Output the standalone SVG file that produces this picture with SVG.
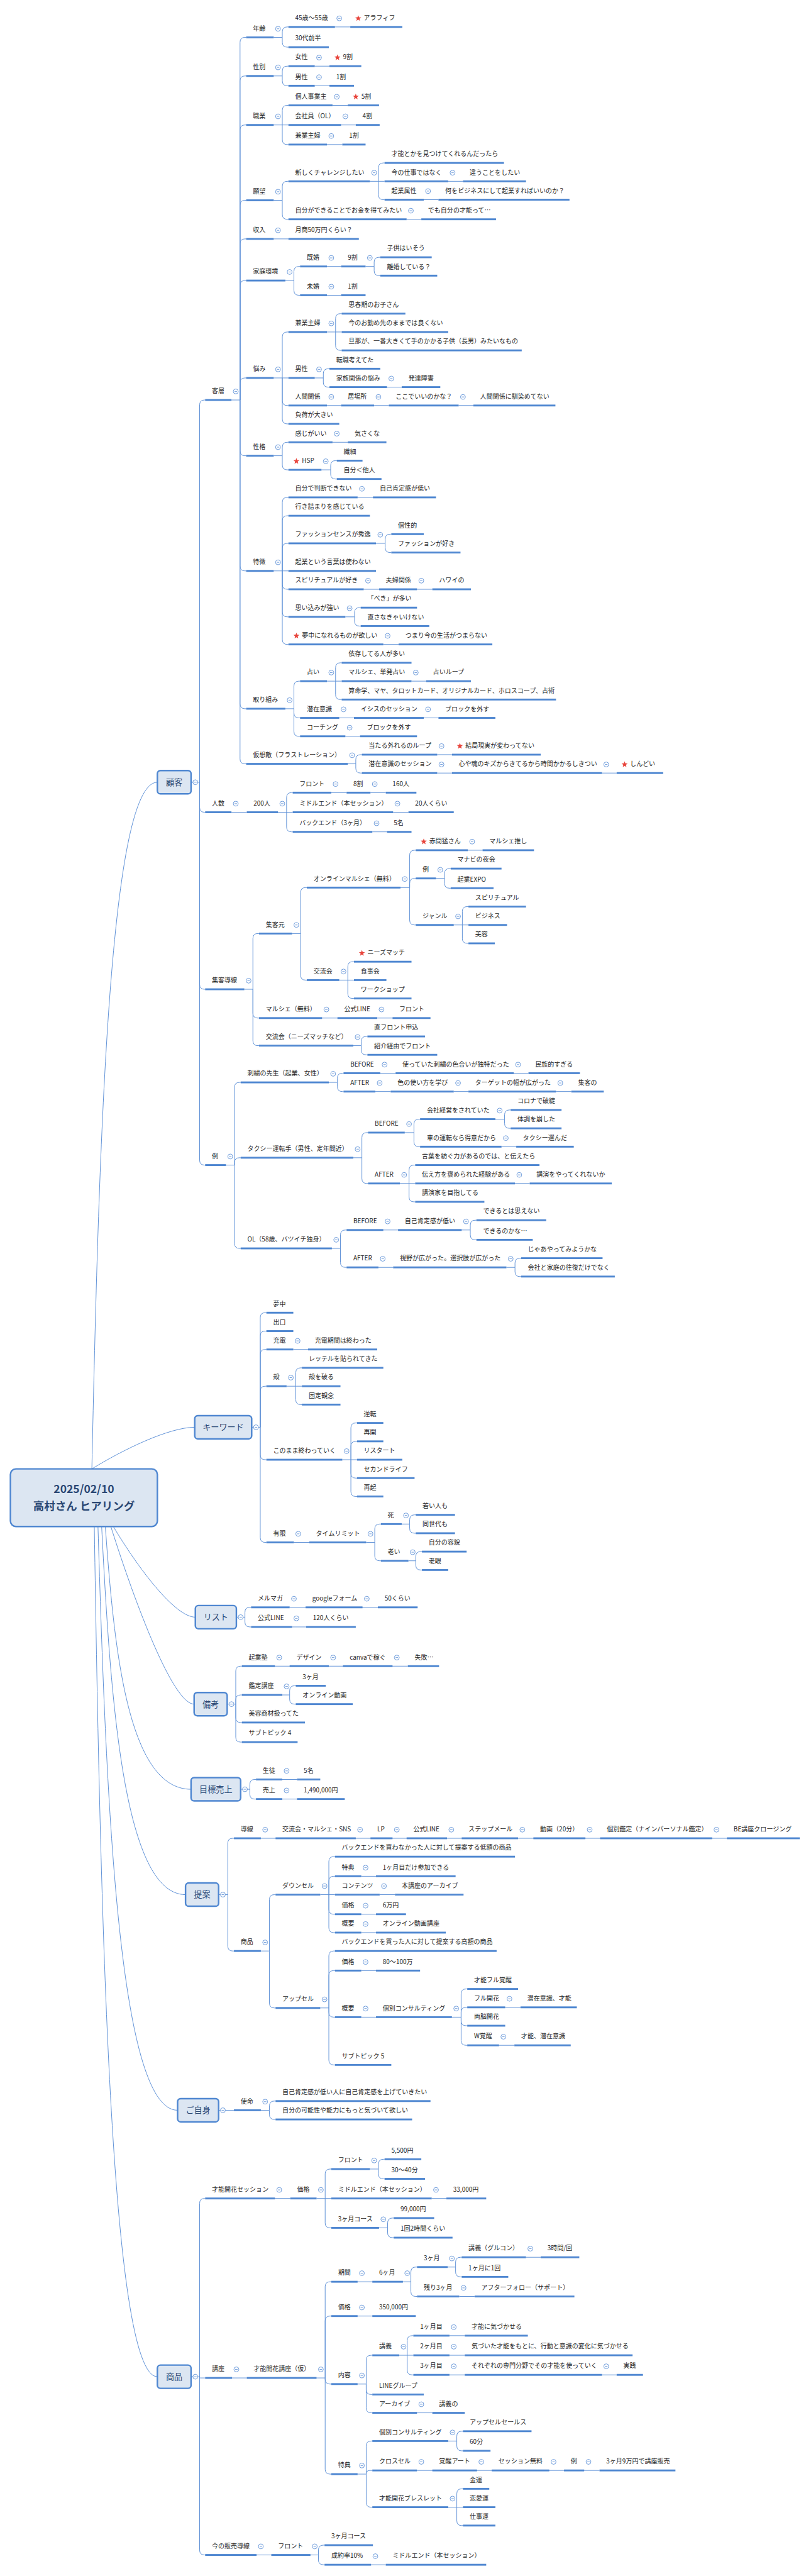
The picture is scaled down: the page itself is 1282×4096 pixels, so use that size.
<svg xmlns="http://www.w3.org/2000/svg" width="1282" height="4096" viewBox="0 0 1282 4096">
<defs>
<style>
.b{fill:#4f87d1}
.t{font-family:"Noto Sans CJK JP","Noto Sans",sans-serif;font-size:10.3px;fill:#262626}
.k{fill:none;stroke:#5b8fd6;stroke-width:1}
.bx{fill:#dce6f2;stroke:#4f87d1;stroke-width:2.5}
.bt{font-family:"Noto Sans CJK JP","Noto Sans",sans-serif;font-size:13.5px;fill:#2b4874;text-anchor:middle}
.rt{font-family:"Noto Sans CJK JP","Noto Sans",sans-serif;font-size:18px;font-weight:bold;fill:#2b4874;text-anchor:middle}
</style>
<g id="m"><circle r="4" fill="#fff" stroke="#5b8fd6" stroke-width="0.9"/><path d="M-2 0H2" stroke="#5b8fd6" stroke-width="0.9"/></g>
<polygon id="s" fill="#e8453c" points="0,-5.2 1.29,-1.78 4.95,-1.61 2.09,0.68 3.06,4.21 0,2.2 -3.06,4.21 -2.09,0.68 -4.95,-1.61 -1.29,-1.78"/>
</defs>
<rect width="1282" height="4096" fill="#fff"/>
<g transform="scale(0.974)">
<g id="connectors" class="k">
<path d="M150 2398C161 1894 177 1277 257 1277M150 2398C200 2367 276 2330 318 2330M185 2492C225 2559 285.5 2640 319 2640M181 2492C222 2622 283 2782 317 2782M172 2492C186 2685 207 2921 312 2921M166 2492C180 2762 200 3093 303 3093M160 2492C173 2921 192 3445 290 3445M154 2492C164 3117 180 3880 257 3880"/>
<path d="M312 1277H326M326 1277V661Q326 653 334 653H335M326 1277V1318Q326 1326 334 1326H335M326 1277V1607Q326 1615 334 1615H335M326 1277V1894Q326 1902 334 1902H335"/>
<path d="M378 653H392M392 653V69Q392 61 400 61H402M392 653V132Q392 124 400 124H402M392 653V212Q392 204 400 204H402M392 653V335Q392 327 400 327H402M392 653V398Q392 390 400 390H402M392 653V466Q392 458 400 458H402M392 653V625Q392 617 400 617H402M392 653V736Q392 744 400 744H402M392 653V924Q392 932 400 932H402M392 653V1149Q392 1157 400 1157H402M392 653V1239Q392 1247 400 1247H402"/>
<path d="M447 61H461M461 61V52Q461 44 469 44H471M461 61V69Q461 77 469 77H471M547 44H572"/>
<path d="M447 124H461M461 124V116Q461 108 469 108H471M461 124V132Q461 140 469 140H471M514 108H538M514 140H538"/>
<path d="M447 204H471M461 204V180Q461 172 469 172H471M461 204V228Q461 236 469 236H471M543 172H568M557 204H581M534 236H559"/>
<path d="M447 327H461M461 327V304Q461 296 469 296H471M461 327V350Q461 358 469 358H471M604 296H628M618 296V274Q618 266 626 266H628M618 296V318Q618 326 626 326H628M732 296H756M692 326H716M664 358H688M447 390H471"/>
<path d="M466 458H480M480 458V443Q480 435 488 435H490M480 458V474Q480 482 488 482H490M534 435H557M597 435H611M611 435V428Q611 420 619 420H621M611 435V442Q611 450 619 450H621M534 482H557"/>
<path d="M447 617H471M461 617V550Q461 542 469 542H471M461 617V654Q461 662 469 662H471M461 617V684Q461 692 469 692H471M534 542H558M548 542V520Q548 512 556 512H558M548 542V564Q548 572 556 572H558M514 617H528M528 617V610Q528 602 536 602H538M528 617V624Q528 632 536 632H538M632 632H656M534 662H557M611 662H635M749 662H773"/>
<path d="M447 744H461M461 744V730Q461 722 469 722H471M461 744V759Q461 767 469 767H471M543 722H568M525 767H540M540 767V760Q540 752 548 752H550M540 767V774Q540 782 548 782H550"/>
<path d="M447 932H471M461 932V820Q461 812 469 812H471M461 932V850Q461 842 469 842H471M461 932V895Q461 887 469 887H471M461 932V954Q461 962 469 962H471M461 932V999Q461 1007 469 1007H471M461 932V1044Q461 1052 469 1052H471M584 812H609M614 887H629M629 887V880Q629 872 637 872H639M629 887V894Q629 902 637 902H639M594 962H619M681 962H706M564 1007H579M579 1007V1000Q579 992 587 992H589M579 1007V1014Q579 1022 587 1022H589M626 1052H651"/>
<path d="M466 1157H480M480 1157V1120Q480 1112 488 1112H490M480 1157V1164Q480 1172 488 1172H490M480 1157V1194Q480 1202 488 1202H490M534 1112H558M548 1112V1090Q548 1082 556 1082H558M548 1112V1134Q548 1142 556 1142H558M672 1112H696M554 1172H578M692 1172H716M564 1202H588"/>
<path d="M568 1247H581M581 1247V1240Q581 1232 589 1232H591M581 1247V1254Q581 1262 589 1262H591M714 1232H738M714 1262H738M983 1262H1007"/>
<path d="M378 1326H403M454 1326H478M468 1326V1302Q468 1294 476 1294H478M468 1326V1350Q468 1358 476 1358H478M541 1294H566M605 1294H630M642 1326H667M608 1358H632"/>
<path d="M399 1615H413M413 1615V1532Q413 1524 421 1524H423M413 1615V1654Q413 1662 421 1662H423M413 1615V1699Q413 1707 421 1707H423M477 1524H491M491 1524V1457Q491 1449 499 1449H501M491 1524V1592Q491 1600 499 1600H501M654 1449H669M669 1449V1396Q669 1388 677 1388H679M669 1449V1442Q669 1434 677 1434H679M669 1449V1502Q669 1510 677 1510H679M764 1388H788M712 1434H726M726 1434V1426Q726 1418 734 1418H736M726 1434V1442Q726 1450 734 1450H736M741 1510H765M755 1510V1488Q755 1480 763 1480H765M755 1510V1532Q755 1540 763 1540H765M554 1600H578M568 1600V1578Q568 1570 576 1570H578M568 1600V1622Q568 1630 576 1630H578M526 1662H551M616 1662H641M577 1707H590M590 1707V1700Q590 1692 598 1692H600M590 1707V1714Q590 1722 598 1722H600"/>
<path d="M369 1902H383M383 1902V1775Q383 1767 391 1767H393M383 1902V1898Q383 1890 391 1890H393M383 1902V2030Q383 2038 391 2038H393M537 1767H551M551 1767V1760Q551 1752 559 1752H561M551 1767V1774Q551 1782 559 1782H561M621 1752H646M839 1752H863M613 1782H638M741 1782H765M908 1782H933"/>
<path d="M577 1890H591M591 1890V1857Q591 1849 599 1849H601M591 1890V1924Q591 1932 599 1932H601M661 1849H676M676 1849V1835Q676 1827 684 1827H686M676 1849V1864Q676 1872 684 1872H686M809 1827H824M824 1827V1820Q824 1812 832 1812H834M824 1827V1834Q824 1842 832 1842H834M819 1872H843M653 1932H678M668 1932V1910Q668 1902 676 1902H678M668 1932V1954Q668 1962 676 1962H678M841 1932H865"/>
<path d="M542 2038H556M556 2038V2016Q556 2008 564 2008H566M556 2038V2061Q556 2069 564 2069H566M626 2008H650M754 2008H768M768 2008V2000Q768 1992 776 1992H778M768 2008V2016Q768 2024 776 2024H778M618 2069H642M827 2069H841M841 2069V2062Q841 2054 849 2054H851M841 2069V2076Q841 2084 849 2084H851"/>
<path d="M411 2330H425M425 2330V2151Q425 2143 433 2143H435M425 2330V2181Q425 2173 433 2173H435M425 2330V2211Q425 2203 433 2203H435M425 2330V2271Q425 2263 433 2263H435M425 2330V2375Q425 2383 433 2383H435M425 2330V2510Q425 2518 433 2518H435M479 2203H503M468 2263H493M483 2263V2241Q483 2233 491 2233H493M483 2263V2285Q483 2293 491 2293H493M559 2383H583M573 2383V2331Q573 2323 581 2323H583M573 2383V2361Q573 2353 581 2353H583M573 2383V2405Q573 2413 581 2413H583M573 2383V2435Q573 2443 581 2443H583M480 2518H505M598 2518H612M612 2518V2496Q612 2488 620 2488H622M612 2518V2540Q612 2548 620 2548H622M656 2488H669M669 2488V2481Q669 2473 677 2473H679M669 2488V2495Q669 2503 677 2503H679M667 2548H679M679 2548V2541Q679 2533 687 2533H689M679 2548V2555Q679 2563 687 2563H689"/>
<path d="M386 2640H400M400 2640V2632Q400 2624 408 2624H410M400 2640V2648Q400 2656 408 2656H410M473 2624H617M477 2656H500"/>
<path d="M371 2782H385M385 2782V2728Q385 2720 393 2720H395M385 2782V2775Q385 2767 393 2767H395M385 2782V2804Q385 2812 393 2812H395M385 2782V2836Q385 2844 393 2844H395M449 2720H666M461 2767H473M473 2767V2760Q473 2752 481 2752H483M473 2767V2774Q473 2782 481 2782H483"/>
<path d="M393 2921H408M408 2921V2913Q408 2905 416 2905H418M408 2921V2929Q408 2937 416 2937H418M461 2905H485M461 2937H485"/>
<path d="M357 3093H372M372 3093V3009Q372 3001 380 3001H382M372 3093V3177Q372 3185 380 3185H382M426 3001H1187M426 3185H440M440 3185V3101Q440 3093 448 3093H450M440 3185V3270Q440 3278 448 3278H450"/>
<path d="M523 3093H547M537 3093V3039Q537 3031 545 3031H547M537 3093V3071Q537 3063 545 3063H547M537 3093V3117Q537 3125 545 3125H547M537 3093V3147Q537 3155 545 3155H547M590 3063H614M620 3093H645M590 3125H614M590 3155H614"/>
<path d="M523 3278H537M537 3278V3193Q537 3185 545 3185H547M537 3278V3225Q537 3217 545 3217H547M537 3278V3285Q537 3293 545 3293H547M537 3278V3363Q537 3371 545 3371H547M590 3217H614M590 3293H614M738 3293H753M753 3293V3255Q753 3247 761 3247H763M753 3293V3285Q753 3277 761 3277H763M753 3293V3299Q753 3307 761 3307H763M753 3293V3331Q753 3339 761 3339H763M825 3277H850M815 3339H840"/>
<path d="M357 3445H382M426 3445H440M440 3445V3438Q440 3430 448 3430H450M440 3445V3452Q440 3460 448 3460H450"/>
<path d="M312 3880H326V3882H335M326 3880V3597Q326 3589 334 3589H335M326 3880V4163Q326 4171 334 4171H335M449 3589H474M517 3589H541M531 3589V3549Q531 3541 539 3541H541M531 3589V3629Q531 3637 539 3637H541M604 3541H618M618 3541V3533Q618 3525 626 3525H628M618 3541V3549Q618 3557 626 3557H628M705 3589H729M619 3637H633M633 3637V3629Q633 3621 641 3621H643M633 3637V3645Q633 3653 641 3653H643"/>
<path d="M379 3882H403M517 3882H531M531 3882V3733Q531 3725 539 3725H541M531 3882V3789Q531 3781 539 3781H541M531 3882V3884Q531 3892 539 3892H541M531 3882V4031Q531 4039 539 4039H541M584 3725H608M658 3725H671M671 3725V3709Q671 3701 679 3701H681M671 3725V3741Q671 3749 679 3749H681M731 3701H744M744 3701V3693Q744 3685 752 3685H754M744 3701V3709Q744 3717 752 3717H754M859 3685H883M750 3749H775M584 3781H608"/>
<path d="M584 3892H598M598 3892V3853Q598 3845 606 3845H608M598 3892V3901Q598 3909 606 3909H608M598 3892V3931Q598 3939 606 3939H608M652 3845H675M665 3845V3821Q665 3813 673 3813H675M665 3845V3869Q665 3877 673 3877H675M734 3813H759M734 3845H759M734 3877H1007M681 3939H706"/>
<path d="M584 4039H598M598 4039V3993Q598 3985 606 3985H608M598 4039Q598 4033 604 4033H608M598 4039V4085Q598 4093 606 4093H608M732 3985H746M746 3985V3977Q746 3969 754 3969H756M746 3985V3993Q746 4001 754 4001H756M681 4033H979M732 4093H756M746 4093V4071Q746 4063 754 4063H756M746 4093V4115Q746 4123 754 4123H756"/>
<path d="M419 4171H443M507 4171H520M520 4171V4163Q520 4155 528 4155H530M520 4171V4179Q520 4187 528 4187H530M606 4187H630"/>
</g>

<g id="root"><rect class="bx" x="17" y="2398" width="240" height="94" rx="9" stroke-width="3"/><text class="rt" x="137" y="2437">2025/02/10</text><text class="rt" x="137" y="2465">高村さん ヒアリング</text></g>

<g id="kokyaku"><rect class="bx" x="257" y="1258" width="55" height="38" rx="5"/><text class="bt" x="284.5" y="1282">顧客</text><use href="#m" x="319" y="1277"/></g>
<g id="keyword"><rect class="bx" x="318" y="2311" width="93" height="38" rx="5"/><text class="bt" x="364.5" y="2335">キーワード</text><use href="#m" x="418" y="2330"/></g>
<g id="list"><rect class="bx" x="319" y="2621" width="67" height="38" rx="5"/><text class="bt" x="352.5" y="2645">リスト</text><use href="#m" x="393" y="2640"/></g>
<g id="biko"><rect class="bx" x="317" y="2763" width="54" height="38" rx="5"/><text class="bt" x="344" y="2787">備考</text><use href="#m" x="378" y="2782"/></g>
<g id="mokuhyo"><rect class="bx" x="312" y="2902" width="81" height="38" rx="5"/><text class="bt" x="352.5" y="2926">目標売上</text><use href="#m" x="400" y="2921"/></g>
<g id="teian"><rect class="bx" x="303" y="3074" width="54" height="38" rx="5"/><text class="bt" x="330" y="3098">提案</text><use href="#m" x="364" y="3093"/></g>
<g id="gojishin"><rect class="bx" x="290" y="3426" width="67" height="38" rx="5"/><text class="bt" x="323.5" y="3450">ご自身</text><use href="#m" x="364" y="3445"/></g>
<g id="shohin"><rect class="bx" x="257" y="3861" width="55" height="38" rx="5"/><text class="bt" x="284.5" y="3885">商品</text><use href="#m" x="319" y="3880"/></g>

<g id="n-kyakuso"><rect class="b" x="335" y="651.5" width="43" height="3"/><text class="t" x="346" y="642">客層</text><use href="#m" x="385" y="639"/></g>
<g id="n1"><rect class="b" x="402" y="59.5" width="45" height="3"/><text class="t" x="413" y="50">年齢</text><use href="#m" x="454" y="47"/></g>
<g id="n2"><rect class="b" x="471" y="42.5" width="76" height="3"/><text class="t" x="482" y="33">45歳〜55歳</text><use href="#m" x="554" y="30"/></g>
<g id="n3"><rect class="b" x="572" y="42.5" width="85" height="3"/><use href="#s" x="585" y="30"/><text class="t" x="594" y="33">アラフィフ</text></g>
<g id="n4"><rect class="b" x="471" y="75.5" width="66" height="3"/><text class="t" x="482" y="66">30代前半</text></g>
<g id="n5"><rect class="b" x="402" y="122.5" width="45" height="3"/><text class="t" x="413" y="113">性別</text><use href="#m" x="454" y="110"/></g>
<g id="n6"><rect class="b" x="471" y="106.5" width="43" height="3"/><text class="t" x="482" y="97">女性</text><use href="#m" x="521" y="94"/></g>
<g id="n7"><rect class="b" x="538" y="106.5" width="52" height="3"/><use href="#s" x="551" y="94"/><text class="t" x="560" y="97">9割</text></g>
<g id="n8"><rect class="b" x="471" y="138.5" width="43" height="3"/><text class="t" x="482" y="129">男性</text><use href="#m" x="521" y="126"/></g>
<g id="n9"><rect class="b" x="538" y="138.5" width="40" height="3"/><text class="t" x="549" y="129">1割</text></g>
<g id="n10"><rect class="b" x="402" y="202.5" width="45" height="3"/><text class="t" x="413" y="193">職業</text><use href="#m" x="454" y="190"/></g>
<g id="n11"><rect class="b" x="471" y="170.5" width="72" height="3"/><text class="t" x="482" y="161">個人事業主</text><use href="#m" x="550" y="158"/></g>
<g id="n12"><rect class="b" x="568" y="170.5" width="51" height="3"/><use href="#s" x="581" y="158"/><text class="t" x="590" y="161">5割</text></g>
<g id="n13"><rect class="b" x="471" y="202.5" width="86" height="3"/><text class="t" x="482" y="193">会社員（OL）</text><use href="#m" x="564" y="190"/></g>
<g id="n14"><rect class="b" x="581" y="202.5" width="39" height="3"/><text class="t" x="592" y="193">4割</text></g>
<g id="n15"><rect class="b" x="471" y="234.5" width="63" height="3"/><text class="t" x="482" y="225">兼業主婦</text><use href="#m" x="541" y="222"/></g>
<g id="n16"><rect class="b" x="559" y="234.5" width="38" height="3"/><text class="t" x="570" y="225">1割</text></g>
<g id="n17"><rect class="b" x="402" y="325.5" width="45" height="3"/><text class="t" x="413" y="316">願望</text><use href="#m" x="454" y="313"/></g>
<g id="n18"><rect class="b" x="471" y="294.5" width="133" height="3"/><text class="t" x="482" y="285">新しくチャレンジしたい</text><use href="#m" x="611" y="282"/></g>
<g id="n19"><rect class="b" x="628" y="264.5" width="195" height="3"/><text class="t" x="639" y="255">才能とかを見つけてくれるんだったら</text></g>
<g id="n20"><rect class="b" x="628" y="294.5" width="104" height="3"/><text class="t" x="639" y="285">今の仕事ではなく</text><use href="#m" x="739" y="282"/></g>
<g id="n21"><rect class="b" x="756" y="294.5" width="103" height="3"/><text class="t" x="767" y="285">違うことをしたい</text></g>
<g id="n22"><rect class="b" x="628" y="324.5" width="64" height="3"/><text class="t" x="639" y="315">起業属性</text><use href="#m" x="699" y="312"/></g>
<g id="n23"><rect class="b" x="716" y="324.5" width="214" height="3"/><text class="t" x="727" y="315">何をビジネスにして起業すればいいのか？</text></g>
<g id="n24"><rect class="b" x="471" y="356.5" width="193" height="3"/><text class="t" x="482" y="347">自分ができることでお金を得てみたい</text><use href="#m" x="671" y="344"/></g>
<g id="n25"><rect class="b" x="688" y="356.5" width="122" height="3"/><text class="t" x="699" y="347">でも自分の才能って…</text></g>
<g id="n26"><rect class="b" x="402" y="388.5" width="45" height="3"/><text class="t" x="413" y="379">収入</text><use href="#m" x="454" y="376"/></g>
<g id="n27"><rect class="b" x="471" y="388.5" width="115" height="3"/><text class="t" x="482" y="379">月商50万円くらい？</text></g>
<g id="n28"><rect class="b" x="402" y="456.5" width="64" height="3"/><text class="t" x="413" y="447">家庭環境</text><use href="#m" x="473" y="444"/></g>
<g id="n29"><rect class="b" x="490" y="433.5" width="44" height="3"/><text class="t" x="501" y="424">既婚</text><use href="#m" x="541" y="421"/></g>
<g id="n30"><rect class="b" x="557" y="433.5" width="40" height="3"/><text class="t" x="568" y="424">9割</text><use href="#m" x="604" y="421"/></g>
<g id="n31"><rect class="b" x="621" y="418.5" width="84" height="3"/><text class="t" x="632" y="409">子供はいそう</text></g>
<g id="n32"><rect class="b" x="621" y="448.5" width="93" height="3"/><text class="t" x="632" y="439">離婚している？</text></g>
<g id="n33"><rect class="b" x="490" y="480.5" width="44" height="3"/><text class="t" x="501" y="471">未婚</text><use href="#m" x="541" y="468"/></g>
<g id="n34"><rect class="b" x="557" y="480.5" width="40" height="3"/><text class="t" x="568" y="471">1割</text></g>
<g id="n35"><rect class="b" x="402" y="615.5" width="45" height="3"/><text class="t" x="413" y="606">悩み</text><use href="#m" x="454" y="603"/></g>
<g id="n36"><rect class="b" x="471" y="540.5" width="63" height="3"/><text class="t" x="482" y="531">兼業主婦</text><use href="#m" x="541" y="528"/></g>
<g id="n37"><rect class="b" x="558" y="510.5" width="104" height="3"/><text class="t" x="569" y="501">思春期のお子さん</text></g>
<g id="n38"><rect class="b" x="558" y="540.5" width="174" height="3"/><text class="t" x="569" y="531">今のお勤め先のままでは良くない</text></g>
<g id="n39"><rect class="b" x="558" y="570.5" width="294" height="3"/><text class="t" x="569" y="561">旦那が、一番大きくて手のかかる子供（長男）みたいなもの</text></g>
<g id="n40"><rect class="b" x="471" y="615.5" width="43" height="3"/><text class="t" x="482" y="606">男性</text><use href="#m" x="521" y="603"/></g>
<g id="n41"><rect class="b" x="538" y="600.5" width="83" height="3"/><text class="t" x="549" y="591">転職考えてた</text></g>
<g id="n42"><rect class="b" x="538" y="630.5" width="94" height="3"/><text class="t" x="549" y="621">家族関係の悩み</text><use href="#m" x="639" y="618"/></g>
<g id="n43"><rect class="b" x="656" y="630.5" width="63" height="3"/><text class="t" x="667" y="621">発達障害</text></g>
<g id="n44"><rect class="b" x="471" y="660.5" width="63" height="3"/><text class="t" x="482" y="651">人間関係</text><use href="#m" x="541" y="648"/></g>
<g id="n45"><rect class="b" x="557" y="660.5" width="54" height="3"/><text class="t" x="568" y="651">居場所</text><use href="#m" x="618" y="648"/></g>
<g id="n46"><rect class="b" x="635" y="660.5" width="114" height="3"/><text class="t" x="646" y="651">ここでいいのかな？</text><use href="#m" x="756" y="648"/></g>
<g id="n47"><rect class="b" x="773" y="660.5" width="134" height="3"/><text class="t" x="784" y="651">人間関係に馴染めてない</text></g>
<g id="n48"><rect class="b" x="471" y="690.5" width="83" height="3"/><text class="t" x="482" y="681">負荷が大きい</text></g>
<g id="n49"><rect class="b" x="402" y="742.5" width="45" height="3"/><text class="t" x="413" y="733">性格</text><use href="#m" x="454" y="730"/></g>
<g id="n50"><rect class="b" x="471" y="720.5" width="72" height="3"/><text class="t" x="482" y="711">感じがいい</text><use href="#m" x="550" y="708"/></g>
<g id="n51"><rect class="b" x="568" y="720.5" width="63" height="3"/><text class="t" x="579" y="711">気さくな</text></g>
<g id="n52"><rect class="b" x="471" y="765.5" width="54" height="3"/><use href="#s" x="484" y="753"/><text class="t" x="493" y="756">HSP</text><use href="#m" x="532" y="753"/></g>
<g id="n53"><rect class="b" x="550" y="750.5" width="42" height="3"/><text class="t" x="561" y="741">繊細</text></g>
<g id="n54"><rect class="b" x="550" y="780.5" width="73" height="3"/><text class="t" x="561" y="771">自分＜他人</text></g>
<g id="n55"><rect class="b" x="402" y="930.5" width="45" height="3"/><text class="t" x="413" y="921">特徴</text><use href="#m" x="454" y="918"/></g>
<g id="n56"><rect class="b" x="471" y="810.5" width="113" height="3"/><text class="t" x="482" y="801">自分で判断できない</text><use href="#m" x="591" y="798"/></g>
<g id="n57"><rect class="b" x="609" y="810.5" width="103" height="3"/><text class="t" x="620" y="801">自己肯定感が低い</text></g>
<g id="n58"><rect class="b" x="471" y="840.5" width="133" height="3"/><text class="t" x="482" y="831">行き詰まりを感じている</text></g>
<g id="n59"><rect class="b" x="471" y="885.5" width="143" height="3"/><text class="t" x="482" y="876">ファッションセンスが秀逸</text><use href="#m" x="621" y="873"/></g>
<g id="n60"><rect class="b" x="639" y="870.5" width="53" height="3"/><text class="t" x="650" y="861">個性的</text></g>
<g id="n61"><rect class="b" x="639" y="900.5" width="113" height="3"/><text class="t" x="650" y="891">ファッションが好き</text></g>
<g id="n62"><rect class="b" x="471" y="930.5" width="143" height="3"/><text class="t" x="482" y="921">起業という言葉は使わない</text></g>
<g id="n63"><rect class="b" x="471" y="960.5" width="123" height="3"/><text class="t" x="482" y="951">スピリチュアルが好き</text><use href="#m" x="601" y="948"/></g>
<g id="n64"><rect class="b" x="619" y="960.5" width="62" height="3"/><text class="t" x="630" y="951">夫婦関係</text><use href="#m" x="688" y="948"/></g>
<g id="n65"><rect class="b" x="706" y="960.5" width="63" height="3"/><text class="t" x="717" y="951">ハワイの</text></g>
<g id="n66"><rect class="b" x="471" y="1005.5" width="93" height="3"/><text class="t" x="482" y="996">思い込みが強い</text><use href="#m" x="571" y="993"/></g>
<g id="n67"><rect class="b" x="589" y="990.5" width="92" height="3"/><text class="t" x="600" y="981">「べき」が多い</text></g>
<g id="n68"><rect class="b" x="589" y="1020.5" width="112" height="3"/><text class="t" x="600" y="1011">直さなきゃいけない</text></g>
<g id="n69"><rect class="b" x="471" y="1050.5" width="155" height="3"/><use href="#s" x="484" y="1038"/><text class="t" x="493" y="1041">夢中になれるものが欲しい</text><use href="#m" x="633" y="1038"/></g>
<g id="n70"><rect class="b" x="651" y="1050.5" width="153" height="3"/><text class="t" x="662" y="1041">つまり今の生活がつまらない</text></g>
<g id="n71"><rect class="b" x="402" y="1155.5" width="64" height="3"/><text class="t" x="413" y="1146">取り組み</text><use href="#m" x="473" y="1143"/></g>
<g id="n72"><rect class="b" x="490" y="1110.5" width="44" height="3"/><text class="t" x="501" y="1101">占い</text><use href="#m" x="541" y="1098"/></g>
<g id="n73"><rect class="b" x="558" y="1080.5" width="114" height="3"/><text class="t" x="569" y="1071">依存してる人が多い</text></g>
<g id="n74"><rect class="b" x="558" y="1110.5" width="114" height="3"/><text class="t" x="569" y="1101">マルシェ、単発占い</text><use href="#m" x="679" y="1098"/></g>
<g id="n75"><rect class="b" x="696" y="1110.5" width="73" height="3"/><text class="t" x="707" y="1101">占いループ</text></g>
<g id="n76"><rect class="b" x="558" y="1140.5" width="350" height="3"/><text class="t" x="569" y="1131">算命学、マヤ、タロットカード、オリジナルカード、ホロスコープ、占術</text></g>
<g id="n77"><rect class="b" x="490" y="1170.5" width="64" height="3"/><text class="t" x="501" y="1161">潜在意識</text><use href="#m" x="561" y="1158"/></g>
<g id="n78"><rect class="b" x="578" y="1170.5" width="114" height="3"/><text class="t" x="589" y="1161">イシスのセッション</text><use href="#m" x="699" y="1158"/></g>
<g id="n79"><rect class="b" x="716" y="1170.5" width="93" height="3"/><text class="t" x="727" y="1161">ブロックを外す</text></g>
<g id="n80"><rect class="b" x="490" y="1200.5" width="74" height="3"/><text class="t" x="501" y="1191">コーチング</text><use href="#m" x="571" y="1188"/></g>
<g id="n81"><rect class="b" x="588" y="1200.5" width="93" height="3"/><text class="t" x="599" y="1191">ブロックを外す</text></g>
<g id="n82"><rect class="b" x="402" y="1245.5" width="166" height="3"/><text class="t" x="413" y="1236">仮想敵（フラストレーション）</text><use href="#m" x="575" y="1233"/></g>
<g id="n83"><rect class="b" x="591" y="1230.5" width="123" height="3"/><text class="t" x="602" y="1221">当たる外れるのループ</text><use href="#m" x="721" y="1218"/></g>
<g id="n84"><rect class="b" x="738" y="1230.5" width="145" height="3"/><use href="#s" x="751" y="1218"/><text class="t" x="760" y="1221">結局現実が変わってない</text></g>
<g id="n85"><rect class="b" x="591" y="1260.5" width="123" height="3"/><text class="t" x="602" y="1251">潜在意識のセッション</text><use href="#m" x="721" y="1248"/></g>
<g id="n86"><rect class="b" x="738" y="1260.5" width="245" height="3"/><text class="t" x="749" y="1251">心や魂のキズからきてるから時間かかるしきつい</text><use href="#m" x="990" y="1248"/></g>
<g id="n87"><rect class="b" x="1007" y="1260.5" width="76" height="3"/><use href="#s" x="1020" y="1248"/><text class="t" x="1029" y="1251">しんどい</text></g>

<g id="n88"><rect class="b" x="335" y="1324.5" width="43" height="3"/><text class="t" x="346" y="1315">人数</text><use href="#m" x="385" y="1312"/></g>
<g id="n89"><rect class="b" x="403" y="1324.5" width="51" height="3"/><text class="t" x="414" y="1315">200人</text><use href="#m" x="461" y="1312"/></g>
<g id="n90"><rect class="b" x="478" y="1292.5" width="63" height="3"/><text class="t" x="489" y="1283">フロント</text><use href="#m" x="548" y="1280"/></g>
<g id="n91"><rect class="b" x="566" y="1292.5" width="39" height="3"/><text class="t" x="577" y="1283">8割</text><use href="#m" x="612" y="1280"/></g>
<g id="n92"><rect class="b" x="630" y="1292.5" width="50" height="3"/><text class="t" x="641" y="1283">160人</text></g>
<g id="n93"><rect class="b" x="478" y="1324.5" width="164" height="3"/><text class="t" x="489" y="1315">ミドルエンド（本セッション）</text><use href="#m" x="649" y="1312"/></g>
<g id="n94"><rect class="b" x="667" y="1324.5" width="74" height="3"/><text class="t" x="678" y="1315">20人くらい</text></g>
<g id="n95"><rect class="b" x="478" y="1356.5" width="130" height="3"/><text class="t" x="489" y="1347">バックエンド（3ヶ月）</text><use href="#m" x="615" y="1344"/></g>
<g id="n96"><rect class="b" x="632" y="1356.5" width="40" height="3"/><text class="t" x="643" y="1347">5名</text></g>

<g id="n97"><rect class="b" x="335" y="1613.5" width="64" height="3"/><text class="t" x="346" y="1604">集客導線</text><use href="#m" x="406" y="1601"/></g>
<g id="n98"><rect class="b" x="423" y="1522.5" width="54" height="3"/><text class="t" x="434" y="1513">集客元</text><use href="#m" x="484" y="1510"/></g>
<g id="n99"><rect class="b" x="501" y="1447.5" width="153" height="3"/><text class="t" x="512" y="1438">オンラインマルシェ（無料）</text><use href="#m" x="661" y="1435"/></g>
<g id="n100"><rect class="b" x="679" y="1386.5" width="85" height="3"/><use href="#s" x="692" y="1374"/><text class="t" x="701" y="1377">赤間猛さん</text><use href="#m" x="771" y="1374"/></g>
<g id="n101"><rect class="b" x="788" y="1386.5" width="84" height="3"/><text class="t" x="799" y="1377">マルシェ推し</text></g>
<g id="n102"><rect class="b" x="679" y="1432.5" width="33" height="3"/><text class="t" x="690" y="1423">例</text><use href="#m" x="719" y="1420"/></g>
<g id="n103"><rect class="b" x="736" y="1416.5" width="83" height="3"/><text class="t" x="747" y="1407">マナビの夜会</text></g>
<g id="n104"><rect class="b" x="736" y="1448.5" width="70" height="3"/><text class="t" x="747" y="1439">起業EXPO</text></g>
<g id="n105"><rect class="b" x="679" y="1508.5" width="62" height="3"/><text class="t" x="690" y="1499">ジャンル</text><use href="#m" x="748" y="1496"/></g>
<g id="n106"><rect class="b" x="765" y="1478.5" width="94" height="3"/><text class="t" x="776" y="1469">スピリチュアル</text></g>
<g id="n107"><rect class="b" x="765" y="1508.5" width="63" height="3"/><text class="t" x="776" y="1499">ビジネス</text></g>
<g id="n108"><rect class="b" x="765" y="1538.5" width="43" height="3"/><text class="t" x="776" y="1529">美容</text></g>
<g id="n109"><rect class="b" x="501" y="1598.5" width="53" height="3"/><text class="t" x="512" y="1589">交流会</text><use href="#m" x="561" y="1586"/></g>
<g id="n110"><rect class="b" x="578" y="1568.5" width="94" height="3"/><use href="#s" x="591" y="1556"/><text class="t" x="600" y="1559">ニーズマッチ</text></g>
<g id="n111"><rect class="b" x="578" y="1598.5" width="53" height="3"/><text class="t" x="589" y="1589">食事会</text></g>
<g id="n112"><rect class="b" x="578" y="1628.5" width="94" height="3"/><text class="t" x="589" y="1619">ワークショップ</text></g>
<g id="n113"><rect class="b" x="423" y="1660.5" width="103" height="3"/><text class="t" x="434" y="1651">マルシェ（無料）</text><use href="#m" x="533" y="1648"/></g>
<g id="n114"><rect class="b" x="551" y="1660.5" width="65" height="3"/><text class="t" x="562" y="1651">公式LINE</text><use href="#m" x="623" y="1648"/></g>
<g id="n115"><rect class="b" x="641" y="1660.5" width="62" height="3"/><text class="t" x="652" y="1651">フロント</text></g>
<g id="n116"><rect class="b" x="423" y="1705.5" width="154" height="3"/><text class="t" x="434" y="1696">交流会（ニーズマッチなど）</text><use href="#m" x="584" y="1693"/></g>
<g id="n117"><rect class="b" x="600" y="1690.5" width="94" height="3"/><text class="t" x="611" y="1681">直フロント申込</text></g>
<g id="n118"><rect class="b" x="600" y="1720.5" width="114" height="3"/><text class="t" x="611" y="1711">紹介経由でフロント</text></g>

<g id="n119"><rect class="b" x="335" y="1900.5" width="34" height="3"/><text class="t" x="346" y="1891">例</text><use href="#m" x="376" y="1888"/></g>
<g id="n120"><rect class="b" x="393" y="1765.5" width="144" height="3"/><text class="t" x="404" y="1756">刺繍の先生（起業、女性）</text><use href="#m" x="544" y="1753"/></g>
<g id="n121"><rect class="b" x="561" y="1750.5" width="60" height="3"/><text class="t" x="572" y="1741">BEFORE</text><use href="#m" x="628" y="1738"/></g>
<g id="n122"><rect class="b" x="646" y="1750.5" width="193" height="3"/><text class="t" x="657" y="1741">使っていた刺繍の色合いが独特だった</text><use href="#m" x="846" y="1738"/></g>
<g id="n123"><rect class="b" x="863" y="1750.5" width="84" height="3"/><text class="t" x="874" y="1741">民族的すぎる</text></g>
<g id="n124"><rect class="b" x="561" y="1780.5" width="52" height="3"/><text class="t" x="572" y="1771">AFTER</text><use href="#m" x="620" y="1768"/></g>
<g id="n125"><rect class="b" x="638" y="1780.5" width="103" height="3"/><text class="t" x="649" y="1771">色の使い方を学び</text><use href="#m" x="748" y="1768"/></g>
<g id="n126"><rect class="b" x="765" y="1780.5" width="143" height="3"/><text class="t" x="776" y="1771">ターゲットの幅が広がった</text><use href="#m" x="915" y="1768"/></g>
<g id="n127"><rect class="b" x="933" y="1780.5" width="53" height="3"/><text class="t" x="944" y="1771">集客の</text></g>
<g id="n128"><rect class="b" x="393" y="1888.5" width="184" height="3"/><text class="t" x="404" y="1879">タクシー運転手（男性、定年間近）</text><use href="#m" x="584" y="1876"/></g>
<g id="n129"><rect class="b" x="601" y="1847.5" width="60" height="3"/><text class="t" x="612" y="1838">BEFORE</text><use href="#m" x="668" y="1835"/></g>
<g id="n130"><rect class="b" x="686" y="1825.5" width="123" height="3"/><text class="t" x="697" y="1816">会社経営をされていた</text><use href="#m" x="816" y="1813"/></g>
<g id="n131"><rect class="b" x="834" y="1810.5" width="83" height="3"/><text class="t" x="845" y="1801">コロナで破綻</text></g>
<g id="n132"><rect class="b" x="834" y="1840.5" width="83" height="3"/><text class="t" x="845" y="1831">体調を崩した</text></g>
<g id="n133"><rect class="b" x="686" y="1870.5" width="133" height="3"/><text class="t" x="697" y="1861">車の運転なら得意だから</text><use href="#m" x="826" y="1858"/></g>
<g id="n134"><rect class="b" x="843" y="1870.5" width="94" height="3"/><text class="t" x="854" y="1861">タクシー選んだ</text></g>
<g id="n135"><rect class="b" x="601" y="1930.5" width="52" height="3"/><text class="t" x="612" y="1921">AFTER</text><use href="#m" x="660" y="1918"/></g>
<g id="n136"><rect class="b" x="678" y="1900.5" width="203" height="3"/><text class="t" x="689" y="1891">言葉を紡ぐ力があるのでは、と伝えたら</text></g>
<g id="n137"><rect class="b" x="678" y="1930.5" width="163" height="3"/><text class="t" x="689" y="1921">伝え方を褒められた経験がある</text><use href="#m" x="848" y="1918"/></g>
<g id="n138"><rect class="b" x="865" y="1930.5" width="134" height="3"/><text class="t" x="876" y="1921">講演をやってくれないか</text></g>
<g id="n139"><rect class="b" x="678" y="1960.5" width="113" height="3"/><text class="t" x="689" y="1951">講演家を目指してる</text></g>
<g id="n140"><rect class="b" x="393" y="2036.5" width="149" height="3"/><text class="t" x="404" y="2027">OL（58歳、バツイチ独身）</text><use href="#m" x="549" y="2024"/></g>
<g id="n141"><rect class="b" x="566" y="2006.5" width="60" height="3"/><text class="t" x="577" y="1997">BEFORE</text><use href="#m" x="633" y="1994"/></g>
<g id="n142"><rect class="b" x="650" y="2006.5" width="104" height="3"/><text class="t" x="661" y="1997">自己肯定感が低い</text><use href="#m" x="761" y="1994"/></g>
<g id="n143"><rect class="b" x="778" y="1990.5" width="114" height="3"/><text class="t" x="789" y="1981">できるとは思えない</text></g>
<g id="n144"><rect class="b" x="778" y="2022.5" width="92" height="3"/><text class="t" x="789" y="2013">できるのかな…</text></g>
<g id="n145"><rect class="b" x="566" y="2067.5" width="52" height="3"/><text class="t" x="577" y="2058">AFTER</text><use href="#m" x="625" y="2055"/></g>
<g id="n146"><rect class="b" x="642" y="2067.5" width="185" height="3"/><text class="t" x="653" y="2058">視野が広がった。選択肢が広がった</text><use href="#m" x="834" y="2055"/></g>
<g id="n147"><rect class="b" x="851" y="2052.5" width="133" height="3"/><text class="t" x="862" y="2043">じゃあやってみようかな</text></g>
<g id="n148"><rect class="b" x="851" y="2082.5" width="153" height="3"/><text class="t" x="862" y="2073">会社と家庭の往復だけでなく</text></g>

<g id="n149"><rect class="b" x="435" y="2141.5" width="44" height="3"/><text class="t" x="446" y="2132">夢中</text></g>
<g id="n150"><rect class="b" x="435" y="2171.5" width="44" height="3"/><text class="t" x="446" y="2162">出口</text></g>
<g id="n151"><rect class="b" x="435" y="2201.5" width="44" height="3"/><text class="t" x="446" y="2192">充電</text><use href="#m" x="486" y="2189"/></g>
<g id="n152"><rect class="b" x="503" y="2201.5" width="113" height="3"/><text class="t" x="514" y="2192">充電期間は終わった</text></g>
<g id="n153"><rect class="b" x="435" y="2261.5" width="33" height="3"/><text class="t" x="446" y="2252">殻</text><use href="#m" x="475" y="2249"/></g>
<g id="n154"><rect class="b" x="493" y="2231.5" width="133" height="3"/><text class="t" x="504" y="2222">レッテルを貼られてきた</text></g>
<g id="n155"><rect class="b" x="493" y="2261.5" width="63" height="3"/><text class="t" x="504" y="2252">殻を破る</text></g>
<g id="n156"><rect class="b" x="493" y="2291.5" width="63" height="3"/><text class="t" x="504" y="2282">固定観念</text></g>
<g id="n157"><rect class="b" x="435" y="2381.5" width="124" height="3"/><text class="t" x="446" y="2372">このまま終わっていく</text><use href="#m" x="566" y="2369"/></g>
<g id="n158"><rect class="b" x="583" y="2321.5" width="43" height="3"/><text class="t" x="594" y="2312">逆転</text></g>
<g id="n159"><rect class="b" x="583" y="2351.5" width="43" height="3"/><text class="t" x="594" y="2342">再開</text></g>
<g id="n160"><rect class="b" x="583" y="2381.5" width="74" height="3"/><text class="t" x="594" y="2372">リスタート</text></g>
<g id="n161"><rect class="b" x="583" y="2411.5" width="94" height="3"/><text class="t" x="594" y="2402">セカンドライフ</text></g>
<g id="n162"><rect class="b" x="583" y="2441.5" width="43" height="3"/><text class="t" x="594" y="2432">再起</text></g>
<g id="n163"><rect class="b" x="435" y="2516.5" width="45" height="3"/><text class="t" x="446" y="2507">有限</text><use href="#m" x="487" y="2504"/></g>
<g id="n164"><rect class="b" x="505" y="2516.5" width="93" height="3"/><text class="t" x="516" y="2507">タイムリミット</text><use href="#m" x="605" y="2504"/></g>
<g id="n165"><rect class="b" x="622" y="2486.5" width="34" height="3"/><text class="t" x="633" y="2477">死</text><use href="#m" x="663" y="2474"/></g>
<g id="n166"><rect class="b" x="679" y="2471.5" width="64" height="3"/><text class="t" x="690" y="2462">若い人も</text></g>
<g id="n167"><rect class="b" x="679" y="2501.5" width="64" height="3"/><text class="t" x="690" y="2492">同世代も</text></g>
<g id="n168"><rect class="b" x="622" y="2546.5" width="45" height="3"/><text class="t" x="633" y="2537">老い</text><use href="#m" x="674" y="2534"/></g>
<g id="n169"><rect class="b" x="689" y="2531.5" width="73" height="3"/><text class="t" x="700" y="2522">自分の容貌</text></g>
<g id="n170"><rect class="b" x="689" y="2561.5" width="43" height="3"/><text class="t" x="700" y="2552">老眼</text></g>

<g id="n171"><rect class="b" x="410" y="2622.5" width="63" height="3"/><text class="t" x="421" y="2613">メルマガ</text><use href="#m" x="480" y="2610"/></g>
<g id="n172"><rect class="b" x="499" y="2622.5" width="93" height="3"/><text class="t" x="510" y="2613">googleフォーム</text><use href="#m" x="599" y="2610"/></g>
<g id="n173"><rect class="b" x="617" y="2622.5" width="65" height="3"/><text class="t" x="628" y="2613">50くらい</text></g>
<g id="n174"><rect class="b" x="410" y="2654.5" width="67" height="3"/><text class="t" x="421" y="2645">公式LINE</text><use href="#m" x="484" y="2642"/></g>
<g id="n175"><rect class="b" x="500" y="2654.5" width="81" height="3"/><text class="t" x="511" y="2645">120人くらい</text></g>

<g id="n176"><rect class="b" x="395" y="2718.5" width="54" height="3"/><text class="t" x="406" y="2709">起業塾</text><use href="#m" x="456" y="2706"/></g>
<g id="n177"><rect class="b" x="473" y="2718.5" width="64" height="3"/><text class="t" x="484" y="2709">デザイン</text><use href="#m" x="544" y="2706"/></g>
<g id="n178"><rect class="b" x="560" y="2718.5" width="81" height="3"/><text class="t" x="571" y="2709">canvaで稼ぐ</text><use href="#m" x="648" y="2706"/></g>
<g id="n179"><rect class="b" x="666" y="2718.5" width="51" height="3"/><text class="t" x="677" y="2709">失敗…</text></g>
<g id="n180"><rect class="b" x="395" y="2765.5" width="66" height="3"/><text class="t" x="406" y="2756">鑑定講座</text><use href="#m" x="468" y="2753"/></g>
<g id="n181"><rect class="b" x="483" y="2750.5" width="49" height="3"/><text class="t" x="494" y="2741">3ヶ月</text></g>
<g id="n182"><rect class="b" x="483" y="2780.5" width="93" height="3"/><text class="t" x="494" y="2771">オンライン動画</text></g>
<g id="n183"><rect class="b" x="395" y="2810.5" width="103" height="3"/><text class="t" x="406" y="2801">美容商材扱ってた</text></g>
<g id="n184"><rect class="b" x="395" y="2842.5" width="91" height="3"/><text class="t" x="406" y="2833">サブトピック 4</text></g>

<g id="n185"><rect class="b" x="418" y="2903.5" width="43" height="3"/><text class="t" x="429" y="2894">生徒</text><use href="#m" x="468" y="2891"/></g>
<g id="n186"><rect class="b" x="485" y="2903.5" width="38" height="3"/><text class="t" x="496" y="2894">5名</text></g>
<g id="n187"><rect class="b" x="418" y="2935.5" width="43" height="3"/><text class="t" x="429" y="2926">売上</text><use href="#m" x="468" y="2923"/></g>
<g id="n188"><rect class="b" x="485" y="2935.5" width="78" height="3"/><text class="t" x="496" y="2926">1,490,000円</text></g>

<g id="n189"><rect class="b" x="382" y="2999.5" width="44" height="3"/><text class="t" x="393" y="2990">導線</text><use href="#m" x="433" y="2987"/></g>
<g id="n190"><rect class="b" x="450" y="2999.5" width="131" height="3"/><text class="t" x="461" y="2990">交流会・マルシェ・SNS</text><use href="#m" x="588" y="2987"/></g>
<g id="n191"><rect class="b" x="605" y="2999.5" width="36" height="3"/><text class="t" x="616" y="2990">LP</text><use href="#m" x="648" y="2987"/></g>
<g id="n192"><rect class="b" x="664" y="2999.5" width="66" height="3"/><text class="t" x="675" y="2990">公式LINE</text><use href="#m" x="737" y="2987"/></g>
<g id="n193"><rect class="b" x="754" y="2999.5" width="92" height="3"/><text class="t" x="765" y="2990">ステップメール</text><use href="#m" x="853" y="2987"/></g>
<g id="n194"><rect class="b" x="871" y="2999.5" width="85" height="3"/><text class="t" x="882" y="2990">動画（20分）</text><use href="#m" x="963" y="2987"/></g>
<g id="n195"><rect class="b" x="980" y="2999.5" width="183" height="3"/><text class="t" x="991" y="2990">個別鑑定（ナインパーソナル鑑定）</text><use href="#m" x="1170" y="2987"/></g>
<g id="n196"><rect class="b" x="1187" y="2999.5" width="119" height="3"/><text class="t" x="1198" y="2990">BE講座クロージング</text></g>
<g id="n197"><rect class="b" x="382" y="3183.5" width="44" height="3"/><text class="t" x="393" y="3174">商品</text><use href="#m" x="433" y="3171"/></g>
<g id="n198"><rect class="b" x="450" y="3091.5" width="73" height="3"/><text class="t" x="461" y="3082">ダウンセル</text><use href="#m" x="530" y="3079"/></g>
<g id="n199"><rect class="b" x="547" y="3029.5" width="294" height="3"/><text class="t" x="558" y="3020">バックエンドを買わなかった人に対して提案する低額の商品</text></g>
<g id="n200"><rect class="b" x="547" y="3061.5" width="43" height="3"/><text class="t" x="558" y="3052">特典</text><use href="#m" x="597" y="3049"/></g>
<g id="n201"><rect class="b" x="614" y="3061.5" width="130" height="3"/><text class="t" x="625" y="3052">1ヶ月目だけ参加できる</text></g>
<g id="n202"><rect class="b" x="547" y="3091.5" width="73" height="3"/><text class="t" x="558" y="3082">コンテンツ</text><use href="#m" x="627" y="3079"/></g>
<g id="n203"><rect class="b" x="645" y="3091.5" width="112" height="3"/><text class="t" x="656" y="3082">本講座のアーカイブ</text></g>
<g id="n204"><rect class="b" x="547" y="3123.5" width="43" height="3"/><text class="t" x="558" y="3114">価格</text><use href="#m" x="597" y="3111"/></g>
<g id="n205"><rect class="b" x="614" y="3123.5" width="49" height="3"/><text class="t" x="625" y="3114">6万円</text></g>
<g id="n206"><rect class="b" x="547" y="3153.5" width="43" height="3"/><text class="t" x="558" y="3144">概要</text><use href="#m" x="597" y="3141"/></g>
<g id="n207"><rect class="b" x="614" y="3153.5" width="114" height="3"/><text class="t" x="625" y="3144">オンライン動画講座</text></g>
<g id="n208"><rect class="b" x="450" y="3276.5" width="73" height="3"/><text class="t" x="461" y="3267">アップセル</text><use href="#m" x="530" y="3264"/></g>
<g id="n209"><rect class="b" x="547" y="3183.5" width="264" height="3"/><text class="t" x="558" y="3174">バックエンドを買った人に対して提案する高額の商品</text></g>
<g id="n210"><rect class="b" x="547" y="3215.5" width="43" height="3"/><text class="t" x="558" y="3206">価格</text><use href="#m" x="597" y="3203"/></g>
<g id="n211"><rect class="b" x="614" y="3215.5" width="72" height="3"/><text class="t" x="625" y="3206">80〜100万</text></g>
<g id="n212"><rect class="b" x="547" y="3291.5" width="43" height="3"/><text class="t" x="558" y="3282">概要</text><use href="#m" x="597" y="3279"/></g>
<g id="n213"><rect class="b" x="614" y="3291.5" width="124" height="3"/><text class="t" x="625" y="3282">個別コンサルティング</text><use href="#m" x="745" y="3279"/></g>
<g id="n214"><rect class="b" x="763" y="3245.5" width="83" height="3"/><text class="t" x="774" y="3236">才能フル覚醒</text></g>
<g id="n215"><rect class="b" x="763" y="3275.5" width="62" height="3"/><text class="t" x="774" y="3266">フル開花</text><use href="#m" x="832" y="3263"/></g>
<g id="n216"><rect class="b" x="850" y="3275.5" width="92" height="3"/><text class="t" x="861" y="3266">潜在意識、才能</text></g>
<g id="n217"><rect class="b" x="763" y="3305.5" width="62" height="3"/><text class="t" x="774" y="3296">両脳開花</text></g>
<g id="n218"><rect class="b" x="763" y="3337.5" width="52" height="3"/><text class="t" x="774" y="3328">W覚醒</text><use href="#m" x="822" y="3325"/></g>
<g id="n219"><rect class="b" x="840" y="3337.5" width="92" height="3"/><text class="t" x="851" y="3328">才能、潜在意識</text></g>
<g id="n220"><rect class="b" x="547" y="3369.5" width="92" height="3"/><text class="t" x="558" y="3360">サブトピック 5</text></g>

<g id="n221"><rect class="b" x="382" y="3443.5" width="44" height="3"/><text class="t" x="393" y="3434">使命</text><use href="#m" x="433" y="3431"/></g>
<g id="n222"><rect class="b" x="450" y="3428.5" width="253" height="3"/><text class="t" x="461" y="3419">自己肯定感が低い人に自己肯定感を上げていきたい</text></g>
<g id="n223"><rect class="b" x="450" y="3458.5" width="223" height="3"/><text class="t" x="461" y="3449">自分の可能性や能力にもっと気づいて欲しい</text></g>

<g id="n224"><rect class="b" x="335" y="3587.5" width="114" height="3"/><text class="t" x="346" y="3578">才能開花セッション</text><use href="#m" x="456" y="3575"/></g>
<g id="n225"><rect class="b" x="474" y="3587.5" width="43" height="3"/><text class="t" x="485" y="3578">価格</text><use href="#m" x="524" y="3575"/></g>
<g id="n226"><rect class="b" x="541" y="3539.5" width="63" height="3"/><text class="t" x="552" y="3530">フロント</text><use href="#m" x="611" y="3527"/></g>
<g id="n227"><rect class="b" x="628" y="3523.5" width="60" height="3"/><text class="t" x="639" y="3514">5,500円</text></g>
<g id="n228"><rect class="b" x="628" y="3555.5" width="66" height="3"/><text class="t" x="639" y="3546">30〜40分</text></g>
<g id="n229"><rect class="b" x="541" y="3587.5" width="164" height="3"/><text class="t" x="552" y="3578">ミドルエンド（本セッション）</text><use href="#m" x="712" y="3575"/></g>
<g id="n230"><rect class="b" x="729" y="3587.5" width="65" height="3"/><text class="t" x="740" y="3578">33,000円</text></g>
<g id="n231"><rect class="b" x="541" y="3635.5" width="78" height="3"/><text class="t" x="552" y="3626">3ヶ月コース</text><use href="#m" x="626" y="3623"/></g>
<g id="n232"><rect class="b" x="643" y="3619.5" width="66" height="3"/><text class="t" x="654" y="3610">99,000円</text></g>
<g id="n233"><rect class="b" x="643" y="3651.5" width="96" height="3"/><text class="t" x="654" y="3642">1回2時間くらい</text></g>
<g id="n234"><rect class="b" x="335" y="3880.5" width="44" height="3"/><text class="t" x="346" y="3871">講座</text><use href="#m" x="386" y="3868"/></g>
<g id="n235"><rect class="b" x="403" y="3880.5" width="114" height="3"/><text class="t" x="414" y="3871">才能開花講座（仮）</text><use href="#m" x="524" y="3868"/></g>
<g id="n236"><rect class="b" x="541" y="3723.5" width="43" height="3"/><text class="t" x="552" y="3714">期間</text><use href="#m" x="591" y="3711"/></g>
<g id="n237"><rect class="b" x="608" y="3723.5" width="50" height="3"/><text class="t" x="619" y="3714">6ヶ月</text><use href="#m" x="665" y="3711"/></g>
<g id="n238"><rect class="b" x="681" y="3699.5" width="50" height="3"/><text class="t" x="692" y="3690">3ヶ月</text><use href="#m" x="738" y="3687"/></g>
<g id="n239"><rect class="b" x="754" y="3683.5" width="105" height="3"/><text class="t" x="765" y="3674">講義（グルコン）</text><use href="#m" x="866" y="3671"/></g>
<g id="n240"><rect class="b" x="883" y="3683.5" width="63" height="3"/><text class="t" x="894" y="3674">3時間/回</text></g>
<g id="n241"><rect class="b" x="754" y="3715.5" width="76" height="3"/><text class="t" x="765" y="3706">1ヶ月に1回</text></g>
<g id="n242"><rect class="b" x="681" y="3747.5" width="69" height="3"/><text class="t" x="692" y="3738">残り3ヶ月</text><use href="#m" x="757" y="3735"/></g>
<g id="n243"><rect class="b" x="775" y="3747.5" width="163" height="3"/><text class="t" x="786" y="3738">アフターフォロー（サポート）</text></g>
<g id="n244"><rect class="b" x="541" y="3779.5" width="43" height="3"/><text class="t" x="552" y="3770">価格</text><use href="#m" x="591" y="3767"/></g>
<g id="n245"><rect class="b" x="608" y="3779.5" width="71" height="3"/><text class="t" x="619" y="3770">350,000円</text></g>
<g id="n246"><rect class="b" x="541" y="3890.5" width="43" height="3"/><text class="t" x="552" y="3881">内容</text><use href="#m" x="591" y="3878"/></g>
<g id="n247"><rect class="b" x="608" y="3843.5" width="44" height="3"/><text class="t" x="619" y="3834">講義</text><use href="#m" x="659" y="3831"/></g>
<g id="n248"><rect class="b" x="675" y="3811.5" width="59" height="3"/><text class="t" x="686" y="3802">1ヶ月目</text><use href="#m" x="741" y="3799"/></g>
<g id="n249"><rect class="b" x="759" y="3811.5" width="103" height="3"/><text class="t" x="770" y="3802">才能に気づかせる</text></g>
<g id="n250"><rect class="b" x="675" y="3843.5" width="59" height="3"/><text class="t" x="686" y="3834">2ヶ月目</text><use href="#m" x="741" y="3831"/></g>
<g id="n251"><rect class="b" x="759" y="3843.5" width="274" height="3"/><text class="t" x="770" y="3834">気づいた才能をもとに、行動と意識の変化に気づかせる</text></g>
<g id="n252"><rect class="b" x="675" y="3875.5" width="59" height="3"/><text class="t" x="686" y="3866">3ヶ月目</text><use href="#m" x="741" y="3863"/></g>
<g id="n253"><rect class="b" x="759" y="3875.5" width="224" height="3"/><text class="t" x="770" y="3866">それぞれの専門分野でその才能を使っていく</text><use href="#m" x="990" y="3863"/></g>
<g id="n254"><rect class="b" x="1007" y="3875.5" width="43" height="3"/><text class="t" x="1018" y="3866">実践</text></g>
<g id="n255"><rect class="b" x="608" y="3907.5" width="84" height="3"/><text class="t" x="619" y="3898">LINEグループ</text></g>
<g id="n256"><rect class="b" x="608" y="3937.5" width="73" height="3"/><text class="t" x="619" y="3928">アーカイブ</text><use href="#m" x="688" y="3925"/></g>
<g id="n257"><rect class="b" x="706" y="3937.5" width="53" height="3"/><text class="t" x="717" y="3928">講義の</text></g>
<g id="n258"><rect class="b" x="541" y="4037.5" width="43" height="3"/><text class="t" x="552" y="4028">特典</text><use href="#m" x="591" y="4025"/></g>
<g id="n259"><rect class="b" x="608" y="3983.5" width="124" height="3"/><text class="t" x="619" y="3974">個別コンサルティング</text><use href="#m" x="739" y="3971"/></g>
<g id="n260"><rect class="b" x="756" y="3967.5" width="112" height="3"/><text class="t" x="767" y="3958">アップセルセールス</text></g>
<g id="n261"><rect class="b" x="756" y="3999.5" width="45" height="3"/><text class="t" x="767" y="3990">60分</text></g>
<g id="n262"><rect class="b" x="608" y="4031.5" width="73" height="3"/><text class="t" x="619" y="4022">クロスセル</text><use href="#m" x="688" y="4019"/></g>
<g id="n263"><rect class="b" x="706" y="4031.5" width="73" height="3"/><text class="t" x="717" y="4022">覚醒アート</text><use href="#m" x="786" y="4019"/></g>
<g id="n264"><rect class="b" x="803" y="4031.5" width="94" height="3"/><text class="t" x="814" y="4022">セッション無料</text><use href="#m" x="904" y="4019"/></g>
<g id="n265"><rect class="b" x="921" y="4031.5" width="33" height="3"/><text class="t" x="932" y="4022">例</text><use href="#m" x="961" y="4019"/></g>
<g id="n266"><rect class="b" x="979" y="4031.5" width="124" height="3"/><text class="t" x="990" y="4022">3ヶ月9万円で講座販売</text></g>
<g id="n267"><rect class="b" x="608" y="4091.5" width="124" height="3"/><text class="t" x="619" y="4082">才能開花ブレスレット</text><use href="#m" x="739" y="4079"/></g>
<g id="n268"><rect class="b" x="756" y="4061.5" width="43" height="3"/><text class="t" x="767" y="4052">金運</text></g>
<g id="n269"><rect class="b" x="756" y="4091.5" width="53" height="3"/><text class="t" x="767" y="4082">恋愛運</text></g>
<g id="n270"><rect class="b" x="756" y="4121.5" width="53" height="3"/><text class="t" x="767" y="4112">仕事運</text></g>
<g id="n271"><rect class="b" x="335" y="4169.5" width="84" height="3"/><text class="t" x="346" y="4160">今の販売導線</text><use href="#m" x="426" y="4157"/></g>
<g id="n272"><rect class="b" x="443" y="4169.5" width="64" height="3"/><text class="t" x="454" y="4160">フロント</text><use href="#m" x="514" y="4157"/></g>
<g id="n273"><rect class="b" x="530" y="4153.5" width="79" height="3"/><text class="t" x="541" y="4144">3ヶ月コース</text></g>
<g id="n274"><rect class="b" x="530" y="4185.5" width="76" height="3"/><text class="t" x="541" y="4176">成約率10%</text><use href="#m" x="613" y="4173"/></g>
<g id="n275"><rect class="b" x="630" y="4185.5" width="164" height="3"/><text class="t" x="641" y="4176">ミドルエンド（本セッション）</text></g>
</g>
</svg>
